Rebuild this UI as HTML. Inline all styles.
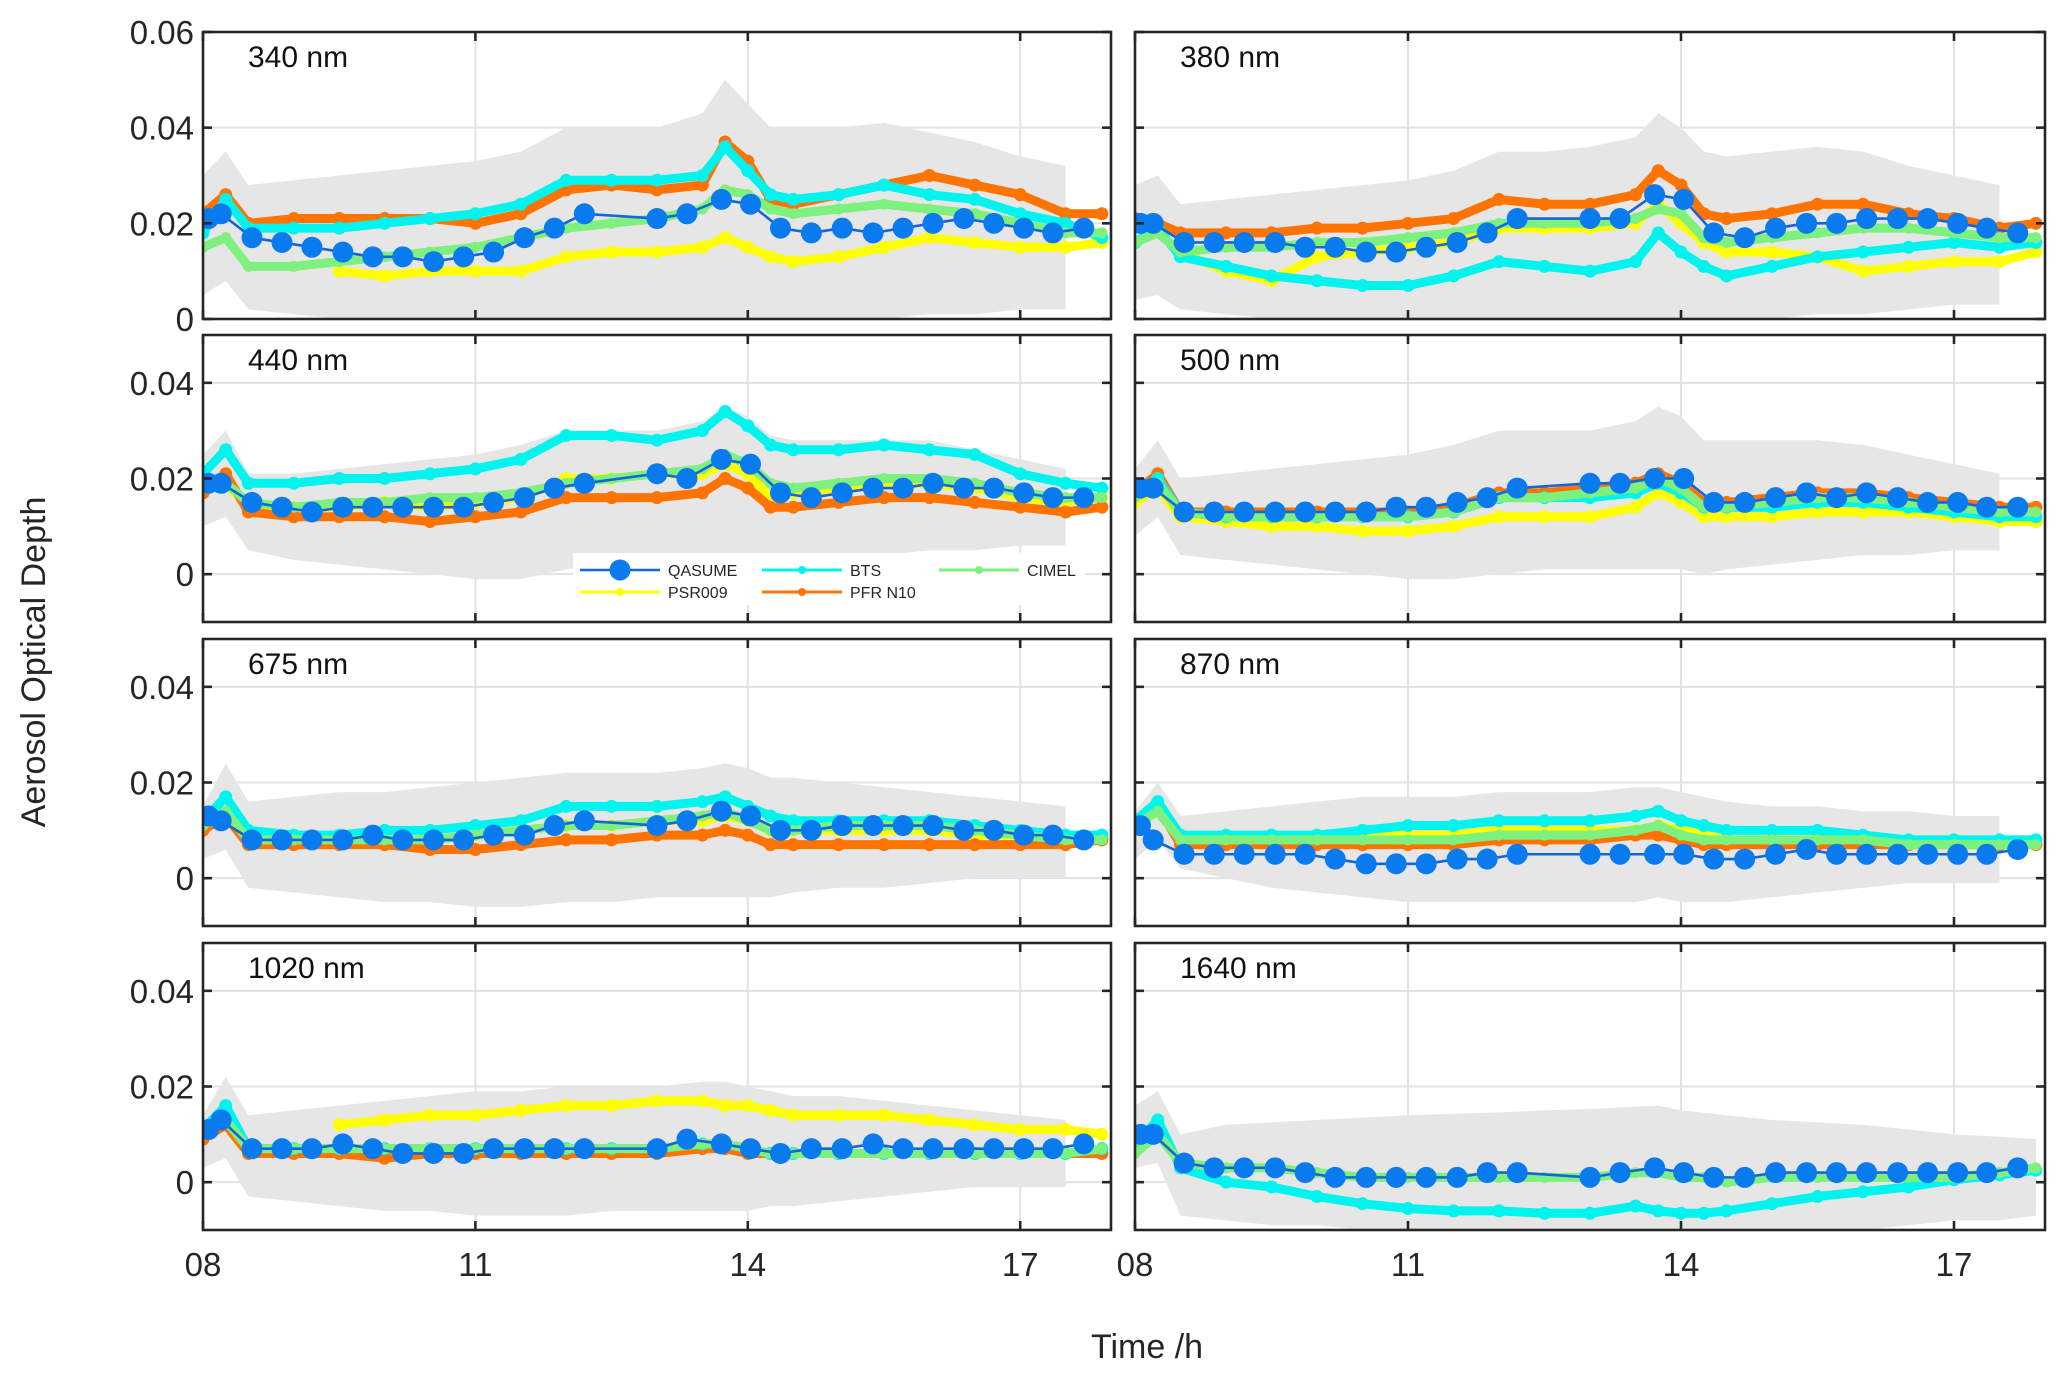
<!DOCTYPE html>
<html><head><meta charset="utf-8">
<style>
html,body{margin:0;padding:0;background:#fff;}
svg{display:block;font-family:"Liberation Sans",sans-serif;}
</style></head>
<body>
<svg id="chart" width="2067" height="1379" viewBox="0 0 2067 1379" xmlns="http://www.w3.org/2000/svg">
<rect width="2067" height="1379" fill="#fff"/>
<text x="0" y="0" transform="translate(45,662) rotate(-90)" text-anchor="middle" font-size="34" fill="#262626">Aerosol Optical Depth</text>
<text x="1147" y="1358" text-anchor="middle" font-size="34" fill="#262626">Time /h</text>
</svg>
<script>
// time grids
const tQ = [8.06,8.2,8.54,8.87,9.2,9.54,9.87,10.2,10.54,10.87,11.2,11.54,11.87,12.2,13.0,13.33,13.71,14.03,14.36,14.7,15.04,15.38,15.71,16.04,16.38,16.71,17.04,17.36,17.7];
const tC = [8,8.25,8.5,9,9.5,10,10.5,11,11.5,12,12.5,13,13.5,13.75,14,14.25,14.5,15,15.5,16,16.5,17,17.5,17.9];
const xTicks = [8,11,14,17];
const xTickLabels = ["08","11","14","17"];
const panelNames = ["340 nm","380 nm","440 nm","500 nm","675 nm","870 nm","1020 nm","1640 nm"];
const N = null;
// QASUME
const qasume = [
[0.021,0.022,0.017,0.016,0.015,0.014,0.013,0.013,0.012,0.013,0.014,0.017,0.019,0.022,0.021,0.022,0.025,0.024,0.019,0.018,0.019,0.018,0.019,0.020,0.021,0.020,0.019,0.018,0.019],
[0.020,0.020,0.016,0.016,0.016,0.016,0.015,0.015,0.014,0.014,0.015,0.016,0.018,0.021,0.021,0.021,0.026,0.025,0.018,0.017,0.019,0.020,0.020,0.021,0.021,0.021,0.020,0.019,0.018],
[0.019,0.019,0.015,0.014,0.013,0.014,0.014,0.014,0.014,0.014,0.015,0.016,0.018,0.019,0.021,0.020,0.024,0.023,0.017,0.016,0.017,0.018,0.018,0.019,0.018,0.018,0.017,0.016,0.016],
[0.018,0.018,0.013,0.013,0.013,0.013,0.013,0.013,0.013,0.014,0.014,0.015,0.016,0.018,0.019,0.019,0.020,0.020,0.015,0.015,0.016,0.017,0.016,0.017,0.016,0.015,0.015,0.014,0.014],
[0.013,0.012,0.008,0.008,0.008,0.008,0.009,0.008,0.008,0.008,0.009,0.009,0.011,0.012,0.011,0.012,0.014,0.013,0.010,0.010,0.011,0.011,0.011,0.011,0.010,0.010,0.009,0.009,0.008],
[0.011,0.008,0.005,0.005,0.005,0.005,0.005,0.004,0.003,0.003,0.003,0.004,0.004,0.005,0.005,0.005,0.005,0.005,0.004,0.004,0.005,0.006,0.005,0.005,0.005,0.005,0.005,0.005,0.006],
[0.011,0.013,0.007,0.007,0.007,0.008,0.007,0.006,0.006,0.006,0.007,0.007,0.007,0.007,0.007,0.009,0.008,0.007,0.006,0.007,0.007,0.008,0.007,0.007,0.007,0.007,0.007,0.007,0.008],
[0.010,0.010,0.004,0.003,0.003,0.003,0.002,0.001,0.001,0.001,0.001,0.001,0.002,0.002,0.001,0.002,0.003,0.002,0.001,0.001,0.002,0.002,0.002,0.002,0.002,0.002,0.002,0.002,0.003]];
const bts = [
[0.018,0.025,0.019,0.019,0.019,0.020,0.021,0.022,0.024,0.029,0.029,0.029,0.030,0.036,0.031,0.026,0.025,0.026,0.028,0.026,0.025,0.022,0.020,0.017],
[0.016,0.019,0.013,0.011,0.009,0.008,0.007,0.007,0.009,0.012,0.011,0.010,0.012,0.018,0.014,0.011,0.009,0.011,0.013,0.014,0.015,0.016,0.015,0.016],
[0.021,0.026,0.019,0.019,0.020,0.020,0.021,0.022,0.024,0.029,0.029,0.028,0.030,0.034,0.031,0.027,0.026,0.026,0.027,0.026,0.025,0.021,0.019,0.018],
[0.017,0.020,0.013,0.012,0.012,0.012,0.012,0.012,0.013,0.016,0.016,0.016,0.017,0.019,0.017,0.014,0.014,0.014,0.015,0.015,0.014,0.013,0.012,0.012],
[0.012,0.017,0.010,0.009,0.009,0.010,0.010,0.011,0.012,0.015,0.015,0.015,0.016,0.017,0.015,0.013,0.012,0.012,0.012,0.012,0.011,0.010,0.009,0.009],
[0.012,0.016,0.009,0.009,0.009,0.009,0.010,0.011,0.011,0.012,0.012,0.012,0.013,0.014,0.012,0.011,0.010,0.010,0.010,0.009,0.008,0.008,0.008,0.008],
[0.011,0.016,0.007,0.007,0.007,0.007,0.007,0.007,0.007,0.007,0.007,0.007,0.008,0.008,0.007,0.006,0.006,0.006,0.006,0.006,0.006,0.006,0.006,0.007],
[0.008,0.013,0.003,0.000,-0.001,-0.003,-0.0045,-0.0055,-0.006,-0.006,-0.0065,-0.0065,-0.005,-0.006,-0.0065,-0.0065,-0.006,-0.0045,-0.003,-0.002,-0.001,0.0005,0.0015,0.0025]];
const pfr = [
[0.022,0.026,0.020,0.021,0.021,0.021,0.021,0.020,0.022,0.027,0.028,0.027,0.028,0.037,0.033,0.025,0.024,0.026,0.028,0.030,0.028,0.026,0.022,0.022],
[0.021,0.020,0.018,0.018,0.018,0.019,0.019,0.020,0.021,0.025,0.024,0.024,0.026,0.031,0.028,0.022,0.021,0.022,0.024,0.024,0.022,0.021,0.019,0.020],
[0.017,0.021,0.013,0.012,0.012,0.012,0.011,0.012,0.013,0.016,0.016,0.016,0.017,0.020,0.018,0.014,0.014,0.015,0.016,0.016,0.015,0.014,0.013,0.014],
[0.017,0.021,0.013,0.013,0.013,0.013,0.013,0.013,0.014,0.017,0.017,0.018,0.019,0.021,0.019,0.015,0.015,0.016,0.017,0.017,0.016,0.015,0.014,0.014],
[0.010,0.013,0.007,0.007,0.007,0.007,0.006,0.006,0.007,0.008,0.008,0.009,0.009,0.010,0.009,0.007,0.007,0.007,0.007,0.007,0.007,0.007,0.007,0.008],
[0.011,0.015,0.007,0.007,0.007,0.007,0.007,0.007,0.007,0.008,0.008,0.008,0.009,0.009,0.008,0.007,0.007,0.007,0.007,0.007,0.007,0.007,0.007,0.007],
[0.009,0.012,0.006,0.006,0.006,0.005,0.006,0.006,0.006,0.006,0.006,0.006,0.007,0.007,0.006,0.006,0.006,0.006,0.006,0.006,0.006,0.006,0.006,0.006],
[N,N,N,N,N,N,N,N,N,N,N,N,N,N,N,N,N,N,N,N,N,N,N,N]];
const psr = [
[N,N,N,N,0.010,0.009,0.010,0.010,0.010,0.013,0.014,0.014,0.015,0.017,0.015,0.013,0.012,0.013,0.015,0.017,0.016,0.015,0.015,0.016],
[N,N,0.014,0.010,0.008,0.013,0.014,0.015,0.016,0.019,0.019,0.019,0.020,0.024,0.020,0.016,0.014,0.014,0.013,0.010,0.011,0.012,0.012,0.014],
[0.018,0.019,0.014,0.014,0.014,0.015,0.014,0.015,0.016,0.020,0.020,0.021,0.021,0.023,0.021,0.016,0.017,0.018,0.019,0.019,0.018,0.016,0.015,0.016],
[0.015,0.018,0.012,0.011,0.010,0.010,0.009,0.009,0.010,0.012,0.012,0.012,0.014,0.017,0.015,0.012,0.012,0.012,0.013,0.013,0.013,0.012,0.011,0.011],
[0.011,0.013,0.008,0.008,0.008,0.008,0.008,0.009,0.010,0.011,0.011,0.012,0.012,0.013,0.012,0.010,0.010,0.010,0.010,0.010,0.009,0.009,0.008,0.008],
[0.011,0.014,0.008,0.008,0.008,0.009,0.009,0.009,0.009,0.010,0.010,0.010,0.010,0.011,0.010,0.009,0.008,0.008,0.008,0.008,0.008,0.008,0.008,0.008],
[N,N,N,N,0.012,0.013,0.014,0.014,0.015,0.016,0.016,0.017,0.017,0.016,0.016,0.015,0.014,0.014,0.014,0.013,0.012,0.011,0.011,0.010],
[N,N,N,N,N,N,N,N,N,N,N,N,N,N,N,N,N,N,N,N,N,N,N,N]];
const cimel = [
[0.015,0.017,0.011,0.011,0.012,0.013,0.014,0.015,0.017,0.019,0.020,0.021,0.023,0.027,0.026,0.023,0.022,0.023,0.024,0.023,0.022,0.020,0.018,0.018],
[0.016,0.018,0.014,0.015,0.015,0.016,0.016,0.017,0.018,0.020,0.020,0.020,0.021,0.023,0.022,0.017,0.016,0.017,0.018,0.019,0.019,0.018,0.017,0.017],
[0.018,0.019,0.015,0.014,0.015,0.015,0.016,0.016,0.017,0.019,0.020,0.021,0.022,0.025,0.023,0.019,0.018,0.019,0.020,0.020,0.019,0.017,0.016,0.016],
[0.016,0.019,0.013,0.012,0.012,0.012,0.012,0.012,0.013,0.016,0.016,0.017,0.018,0.020,0.018,0.014,0.014,0.015,0.016,0.016,0.015,0.014,0.013,0.013],
[0.011,0.014,0.008,0.008,0.008,0.008,0.008,0.009,0.010,0.011,0.011,0.012,0.013,0.014,0.012,0.010,0.010,0.011,0.011,0.011,0.010,0.009,0.008,0.008],
[0.011,0.014,0.008,0.008,0.008,0.008,0.008,0.008,0.008,0.009,0.009,0.009,0.010,0.011,0.009,0.008,0.008,0.008,0.008,0.008,0.007,0.007,0.007,0.007],
[0.010,0.013,0.007,0.007,0.007,0.007,0.007,0.007,0.007,0.007,0.007,0.007,0.008,0.008,0.007,0.006,0.006,0.006,0.006,0.006,0.006,0.006,0.006,0.007],
[0.006,0.010,0.004,0.003,0.003,0.002,0.001,0.001,0.001,0.001,0.001,0.001,0.002,0.002,0.001,0.001,0.000,0.001,0.001,0.001,0.001,0.001,0.002,0.003]];
const bandUpper = [
[0.030,0.035,0.028,0.029,0.030,0.031,0.032,0.033,0.035,0.040,0.040,0.040,0.043,0.050,0.045,0.040,0.040,0.040,0.041,0.039,0.037,0.034,0.032,N],
[0.028,0.030,0.024,0.025,0.026,0.027,0.028,0.029,0.031,0.035,0.035,0.036,0.038,0.043,0.040,0.035,0.034,0.035,0.036,0.035,0.032,0.030,0.028,N],
[0.025,0.030,0.021,0.021,0.022,0.023,0.024,0.025,0.027,0.030,0.030,0.030,0.032,0.035,0.033,0.029,0.028,0.028,0.028,0.028,0.026,0.024,0.022,N],
[0.022,0.028,0.020,0.021,0.022,0.023,0.024,0.025,0.027,0.030,0.030,0.030,0.032,0.035,0.033,0.028,0.028,0.028,0.028,0.027,0.025,0.023,0.021,N],
[0.015,0.024,0.016,0.017,0.018,0.018,0.019,0.020,0.021,0.022,0.022,0.022,0.023,0.024,0.023,0.021,0.021,0.020,0.019,0.018,0.017,0.016,0.015,N],
[0.014,0.020,0.013,0.014,0.015,0.016,0.017,0.017,0.017,0.018,0.018,0.018,0.019,0.019,0.018,0.017,0.016,0.015,0.015,0.014,0.014,0.013,0.013,N],
[0.014,0.022,0.014,0.015,0.016,0.017,0.018,0.019,0.019,0.020,0.020,0.020,0.021,0.021,0.020,0.019,0.018,0.018,0.017,0.016,0.015,0.014,0.013,N],
[0.016,0.019,0.010,0.012,0.0125,0.013,0.0135,0.014,0.0143,0.0146,0.015,0.0153,0.0158,0.016,0.015,0.0145,0.014,0.013,0.0125,0.012,0.011,0.010,0.0095,0.009]];
const bandLower = [
[0.005,0.008,0.002,0.001,0.000,-0.001,-0.001,-0.001,-0.001,0.000,0.000,0.000,0.000,0.000,0.000,0.000,0.000,0.000,0.000,0.001,0.001,0.002,0.002,N],
[0.004,0.005,0.002,0.001,0.000,0.000,-0.001,-0.001,-0.001,0.000,0.000,0.000,0.000,0.000,0.000,0.000,0.000,0.000,0.001,0.001,0.002,0.003,0.003,N],
[0.010,0.012,0.005,0.003,0.002,0.001,0.000,-0.001,-0.001,0.001,0.002,0.002,0.002,0.002,0.002,0.003,0.003,0.003,0.004,0.005,0.005,0.006,0.006,N],
[0.008,0.012,0.004,0.003,0.002,0.001,0.000,-0.001,-0.001,0.000,0.001,0.001,0.001,0.001,0.001,0.000,0.001,0.002,0.003,0.004,0.004,0.005,0.005,N],
[0.004,0.006,-0.002,-0.003,-0.004,-0.005,-0.005,-0.006,-0.006,-0.005,-0.005,-0.004,-0.004,-0.004,-0.004,-0.004,-0.003,-0.002,-0.002,-0.001,0.000,0.000,0.000,N],
[0.004,0.008,0.002,0.000,-0.002,-0.003,-0.004,-0.005,-0.005,-0.005,-0.005,-0.005,-0.005,-0.004,-0.005,-0.005,-0.005,-0.004,-0.003,-0.002,-0.001,-0.001,-0.001,N],
[0.003,0.005,-0.003,-0.004,-0.005,-0.006,-0.006,-0.007,-0.007,-0.007,-0.006,-0.006,-0.006,-0.006,-0.006,-0.005,-0.005,-0.004,-0.003,-0.002,-0.001,-0.001,-0.001,N],
[0.003,0.004,-0.007,-0.008,-0.009,-0.009,-0.010,-0.010,-0.010,-0.010,-0.010,-0.010,-0.010,-0.010,-0.010,-0.010,-0.010,-0.010,-0.010,-0.010,-0.009,-0.008,-0.008,-0.007]];

const NS = "http://www.w3.org/2000/svg";
const svg = document.getElementById('chart');
const colX = [[203,1111],[1135,2045]];
const rowY = [32,335,639,943];
const PH = 287;
function mk(tag, attrs, parent){ const e=document.createElementNS(NS,tag); for(const k in attrs) e.setAttribute(k,attrs[k]); (parent||svg).appendChild(e); return e; }
const defs = mk('defs',{});

for(let p=0;p<8;p++){
  const col=p%2,row=Math.floor(p/2);
  const x0=colX[col][0],x1=colX[col][1],y0=rowY[row],y1=y0+PH;
  const ymin = row===0?0:-0.01, ymax = row===0?0.06:0.05;
  const yTicks = row===0?[0,0.02,0.04,0.06]:[0,0.02,0.04];
  const xs=t=>x0+(t-8)/10*(x1-x0);
  const ys=v=>y1-(v-ymin)/(ymax-ymin)*PH;
  const g=mk('g',{});
  
  
  const cp=mk('clipPath',{id:'cp'+p},defs); mk('rect',{x:x0,y:y0,width:x1-x0,height:PH},cp);
  xTicks.slice(1).forEach(t=>{ const l=mk('line',{x1:xs(t),x2:xs(t),y1:y0,y2:y1,stroke:'#e2e2e2','stroke-width':2},g);   });
  yTicks.forEach(v=>{ const l=mk('line',{x1:x0,x2:x1,y1:ys(v),y2:ys(v),stroke:'#e2e2e2','stroke-width':2},g);   });
  const dg=mk('g',{'clip-path':'url(#cp'+p+')'},g);
  let up=[],lo=[];
  tC.forEach((t,i)=>{ if(bandUpper[p][i]!==null){ up.push(xs(t)+','+ys(bandUpper[p][i])); lo.unshift(xs(t)+','+ys(bandLower[p][i])); }});
  const band=mk('polygon',{points:up.concat(lo).join(' '),fill:'#e6e6e6'},dg);
  
  
  function series(arr,color,name,r){
    let segs=[],cur=[];
    tC.forEach((t,i)=>{ const v=arr[i]; if(v===null){ if(cur.length) segs.push(cur); cur=[]; } else cur.push([xs(t),ys(v)]); });
    if(cur.length) segs.push(cur);
    segs.forEach(s=>{
      const pl=mk('polyline',{points:s.map(q=>q.join(',')).join(' '),fill:'none',stroke:color,'stroke-width':9,'stroke-linejoin':'round','stroke-linecap':'round'},dg);
      
      
      s.forEach(q=>{ const c=mk('circle',{cx:q[0],cy:q[1],r:r,fill:color},dg);
        
         });
    });
  }
  series(psr[p],'#ffff00','psr009',6.5);
  series(pfr[p],'#ff7400','pfr-n10',6.5);
  series(bts[p],'#00f4ee','bts',6.5);
  series(cimel[p],'#7ef07e','cimel',5.5);
  const qp=tQ.map((t,i)=>xs(t)+','+ys(qasume[p][i])).join(' ');
  const ql=mk('polyline',{points:qp,fill:'none',stroke:'#1565d8','stroke-width':2.6},dg);
  
  
  tQ.forEach((t,i)=>{ const c=mk('circle',{cx:xs(t),cy:ys(qasume[p][i]),r:10.5,fill:'#0a7bef'},dg);
    
     });
  const bx=mk('rect',{x:x0,y:y0,width:x1-x0,height:PH,fill:'none',stroke:'#262626','stroke-width':2.6},g);
  
  
  xTicks.forEach(t=>{ mk('line',{x1:xs(t),x2:xs(t),y1:y0,y2:y0+9,stroke:'#262626','stroke-width':2.6},g); mk('line',{x1:xs(t),x2:xs(t),y1:y1,y2:y1-9,stroke:'#262626','stroke-width':2.6},g); });
  yTicks.forEach(v=>{ mk('line',{x1:x0,x2:x0+9,y1:ys(v),y2:ys(v),stroke:'#262626','stroke-width':2.6},g); mk('line',{x1:x1,x2:x1-9,y1:ys(v),y2:ys(v),stroke:'#262626','stroke-width':2.6},g); });
  if(col===0){ yTicks.forEach(v=>{ const tx=mk('text',{x:x0-9,y:ys(v)+12,'text-anchor':'end','font-size':33,fill:'#262626'},g); tx.textContent=(v===0?'0':v.toFixed(2));
    
     }); }
  if(row===3){ xTicks.forEach((t,i)=>{ const tx=mk('text',{x:xs(t),y:y1+46,'text-anchor':'middle','font-size':33,fill:'#262626'},g); tx.textContent=xTickLabels[i];
    
     }); }
  const tt=mk('text',{x:x0+45,y:y0+35,'font-size':30,fill:'#111'},g); tt.textContent=panelNames[p];
  
  
}
const lg=mk('g',{});


mk('rect',{x:573,y:553,width:512,height:52,fill:'#fff'},lg);
const legItems=[["QASUME",'#1565d8','#0a7bef',10.5,580,570],["BTS",'#00f4ee','#00f4ee',4,762,570],["CIMEL",'#7ef07e','#7ef07e',4,939,570],["PSR009",'#ffff00','#ffff00',4,580,592],["PFR N10",'#ff7400','#ff7400',4,762,592]];
legItems.forEach(it=>{
  const e=mk('g',{},lg);
  
  
  mk('line',{x1:it[4],x2:it[4]+80,y1:it[5],y2:it[5],stroke:it[1],'stroke-width':it[3]>5?2.6:3},e);
  mk('circle',{cx:it[4]+40,cy:it[5],r:it[3],fill:it[2]},e);
  const tx=mk('text',{x:it[4]+88,y:it[5]+6,'font-size':16,fill:'#262626'},e); tx.textContent=it[0];
});
</script>
</body></html>
